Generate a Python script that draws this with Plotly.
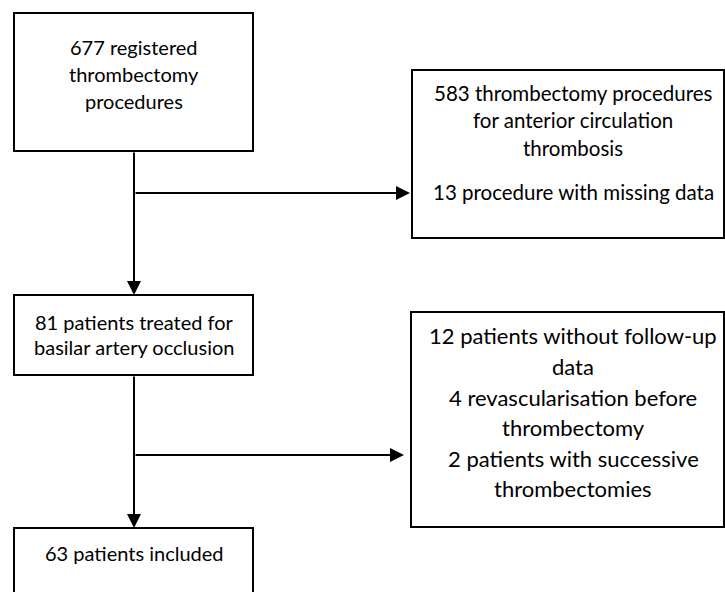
import plotly.graph_objects as go

# Box contents (text lines) and layout
box_rects = [  # x0, y0, x1, y1 in pixel coordinates
    (14, 13, 253, 151),
    (412, 70, 724, 238),
    (14, 295, 253, 375),
    (411, 312, 724, 527),
    (14, 528, 253, 600),
]
box_lines = [
    ["677 registered", "thrombectomy", "procedures"],
    ["583 thrombectomy procedures", "for anterior circulation", "thrombosis", "13 procedure with missing data"],
    ["81 patients treated for", "basilar artery occlusion"],
    ["12 patients without follow-up", "data", "4 revascularisation before", "thrombectomy",
     "2 patients with successive", "thrombectomies"],
    ["63 patients included"],
]
line_y = [
    [47, 74, 101],
    [93, 120, 148, 192],
    [322, 347],
    [335, 366, 397, 427, 458, 488],
    [553],
]
text_x = [134, 573, 134, 573, 134]
font_sizes = [20, 20.5, 20, 22, 20]

# Arrows: tail (x, y) -> head (x, y)
arrows = [
    ((134, 151), (134, 295)),
    ((134, 193), (410, 193)),
    ((134, 375), (134, 528)),
    ((134, 455), (404, 455)),
]

fig = go.Figure()
shapes = []
for (x0, y0, x1, y1) in box_rects:
    shapes.append(dict(type="rect", x0=x0, y0=y0, x1=x1, y1=y1, xref="x", yref="y",
                       line=dict(color="black", width=2), fillcolor="rgba(0,0,0,0)"))
annotations = []
for lines, ys, tx, fs in zip(box_lines, line_y, text_x, font_sizes):
    for t, y in zip(lines, ys):
        annotations.append(dict(x=tx, y=y, xref="x", yref="y", text=t, showarrow=False,
                                xanchor="center", yanchor="middle",
                                font=dict(family="Lato, Carlito, Calibri, sans-serif", size=fs, color="black")))
for (tx, ty), (hx, hy) in arrows:
    annotations.append(dict(x=hx, y=hy, ax=tx, ay=ty, xref="x", yref="y", axref="x", ayref="y",
                            text="", showarrow=True, arrowhead=2, arrowsize=1.4, arrowwidth=2,
                            arrowcolor="black", standoff=0, startstandoff=0))

fig.update_layout(
    width=725, height=592,
    margin=dict(l=0, r=0, t=0, b=0),
    paper_bgcolor="white", plot_bgcolor="white",
    xaxis=dict(range=[0, 725], visible=False, fixedrange=True),
    yaxis=dict(range=[592, 0], visible=False, fixedrange=True),
    shapes=shapes, annotations=annotations, showlegend=False,
)
fig.write_html("out.html", config={"displayModeBar": False},
               post_script="document.body.style.margin='0px';document.body.style.overflow='hidden';")
